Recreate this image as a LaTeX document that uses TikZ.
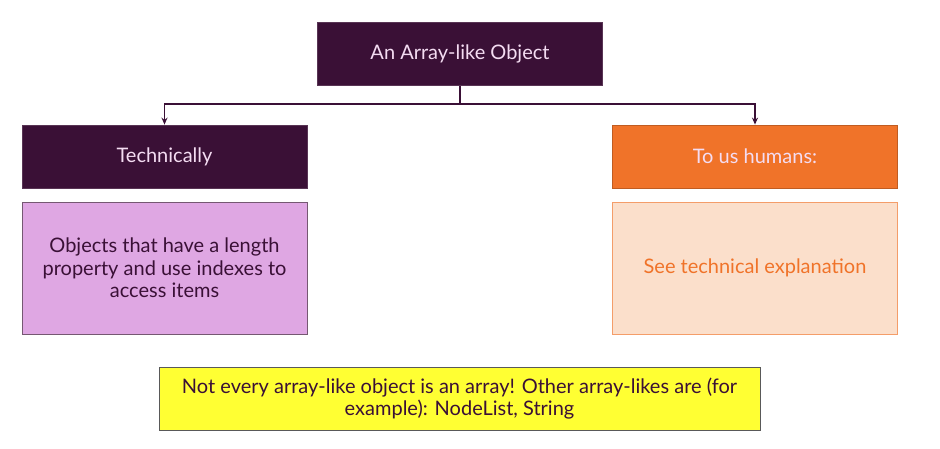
\documentclass[tikz,border=0pt]{standalone}
\usepackage{fontspec}
\setmainfont{Lato}
\usetikzlibrary{arrows.meta}
\definecolor{plum}{HTML}{3A1036}
\definecolor{blush}{HTML}{F4DCF2}
\definecolor{tangerine}{HTML}{F07329}
\definecolor{lilac}{HTML}{DFA7E3}
\definecolor{peach}{HTML}{FBDFCB}
\definecolor{lemon}{HTML}{FFFF33}
\tikzset{
  boxbase/.style={rectangle, minimum width=285pt, minimum height=63pt, line width=0.8pt, font=\fontsize{20}{22.5}\selectfont, align=center},
  headbox/.style={boxbase, draw=plum!85!white, fill=plum, text=blush},
  humanbox/.style={boxbase, draw=tangerine!80!black, fill=tangerine, text=blush},
  techtext/.style={boxbase, minimum height=132pt, draw=plum!70!white, fill=lilac, text=plum},
  humantext/.style={boxbase, minimum height=132pt, draw=tangerine!70!white, fill=peach, text=tangerine},
  notebox/.style={boxbase, minimum width=601pt, draw=black!65, fill=lemon, text=plum},
  link/.style={draw=plum, line width=1.8pt, -{Stealth[length=7pt, width=6pt]}}
}
\begin{document}
\begin{tikzpicture}[x=1pt, y=-1pt]
\useasboundingbox[fill=white] (0,0) rectangle (940,448);

% top level
\node[headbox] (arraylike) at (460,54) {An Array-like Object};

% two views
\node[headbox] (technically) at (164.5,156.5) {Technically};
\node[humanbox] (humans) at (755,156.5) {To us humans:};

% explanations
\node[techtext] (techdef) at (164.5,268) {Objects that have a length\\property and use indexes to\\access items};
\node[humantext] (humandef) at (755,268) {See technical explanation};

% note
\node[notebox] (note) at (459.5,398.5) {Not every array-like object is an array! Other array-likes are (for\\example): NodeList, String};

% connectors
\coordinate (split) at (460,104);
\draw[draw=plum, line width=1.8pt] (arraylike.south) -- (split);
\draw[link] (split) -| (technically.north);
\draw[link] (split) -| (humans.north);
\end{tikzpicture}
\end{document}
